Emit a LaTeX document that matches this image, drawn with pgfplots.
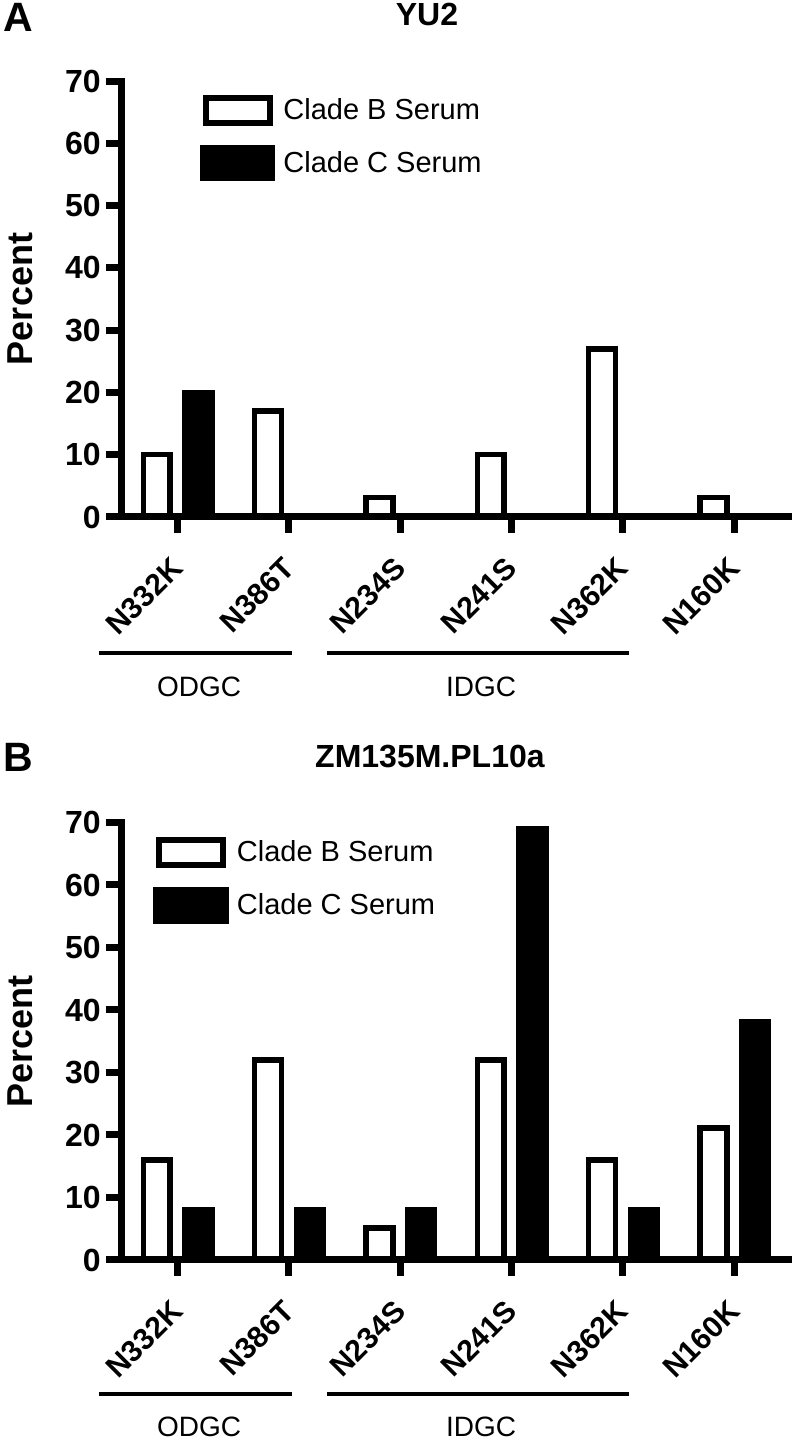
\documentclass[border=0pt]{standalone}
\usepackage{fontspec}
\setmainfont{Liberation Sans}
\usepackage{pgfplots}
\pgfplotsset{compat=1.18}
\begin{document}
\begin{tikzpicture}[x=1pt,y=1pt]
\useasboundingbox (0,0) rectangle (396,720);
\pgfplotsset{
  panel/.style={
    scale only axis, width=334pt, height=218pt, anchor=south west,
    xmin=-0.5, xmax=5.5, ymin=0, ymax=70,
    axis x line=bottom, axis y line=left,
    axis line style={-, line width=3.5pt, line cap=rect},
    ytick={0,10,...,70}, xtick={0,...,5},
    xticklabels={N332K,N386T,N234S,N241S,N362K,N160K},
    tick align=outside, major tick length=8pt,
    tick style={black, line width=3.5pt},
    yticklabel style={font=\bfseries\fontsize{16}{19}\selectfont, inner sep=2.5pt},
    /pgf/number format/assume math mode=true,
    xticklabel style={font=\bfseries\fontsize{15}{18}\selectfont, anchor=east, yshift=-15pt, rotate=45, inner sep=0pt},
    ylabel={Percent},
    ylabel style={font=\bfseries\fontsize{18}{21}\selectfont, at={(axis description cs:-0.1527,0.5)}, anchor=center},
    title style={font=\bfseries\fontsize{16}{19}\selectfont, anchor=center},
    legend style={draw=none, fill=none, anchor=north west, font=\fontsize{14.5}{17}\selectfont, row sep=9.25pt, inner sep=0pt, column sep=2pt},
    legend cell align=left,
    axis on top, clip=false,
  },
  bbar/.style={ybar, bar width=0.24, bar shift=-0.188, draw=black, fill=white, line width=2.75pt,
    legend image code/.code={\draw[line width=3pt,black,fill=white] (0pt,-6.25pt) rectangle (32pt,6.25pt);}},
  cbar/.style={ybar, bar width=0.24, bar shift=0.188, draw=black, fill=black, line width=2.75pt,
    legend image code/.code={\fill[black] (-1.5pt,-7.75pt) rectangle (33.5pt,7.75pt);}},
}
% Panel A
\begin{axis}[panel, at={(61pt,461.5pt)},
  title={YU2}, title style={at={(axis description cs:0.4566,1.124)}},
  legend style={at={(axis description cs:0.116,0.970)}}]
\addplot[bbar] coordinates {(0,10) (1,17) (2,3.1) (3,10) (4,27) (5,3.1)};
\addlegendentry{Clade B Serum}
\addplot[cbar] coordinates {(0,20)};
\addlegendentry{Clade C Serum}
\end{axis}
% Panel B
\begin{axis}[panel, at={(61pt,90pt)}, height=218.75pt,
  title={ZM135M.PL10a}, title style={at={(axis description cs:0.461,1.1223)}},
  legend style={at={(axis description cs:0.0464,0.968)}}]
\addplot[bbar] coordinates {(0,16) (1,32) (2,5.1) (3,32) (4,16) (5,21.1)};
\addlegendentry{Clade B Serum}
\addplot[cbar] coordinates {(0,8.1) (1,8.1) (2,8.1) (3,69) (4,8.1) (5,38.1)};
\addlegendentry{Clade C Serum}
\end{axis}
% panel letters
\node[font=\bfseries\fontsize{20.5}{24}\selectfont, anchor=west, inner sep=0pt] at (1.5,711.5) {A};
\node[font=\bfseries\fontsize{20.5}{24}\selectfont, anchor=west, inner sep=0pt] at (1.5,341.5) {B};
% group annotations
\foreach \yl/\yt in {393.5/376.5, 23/6.5}{
  \draw[line width=2pt] (49.5,\yl) -- (146,\yl);
  \draw[line width=2pt] (163.5,\yl) -- (314.5,\yl);
  \node[font=\fontsize{14}{17}\selectfont] at (99.5,\yt) {ODGC};
  \node[font=\fontsize{14}{17}\selectfont] at (240.5,\yt) {IDGC};
}
\end{tikzpicture}
\end{document}
